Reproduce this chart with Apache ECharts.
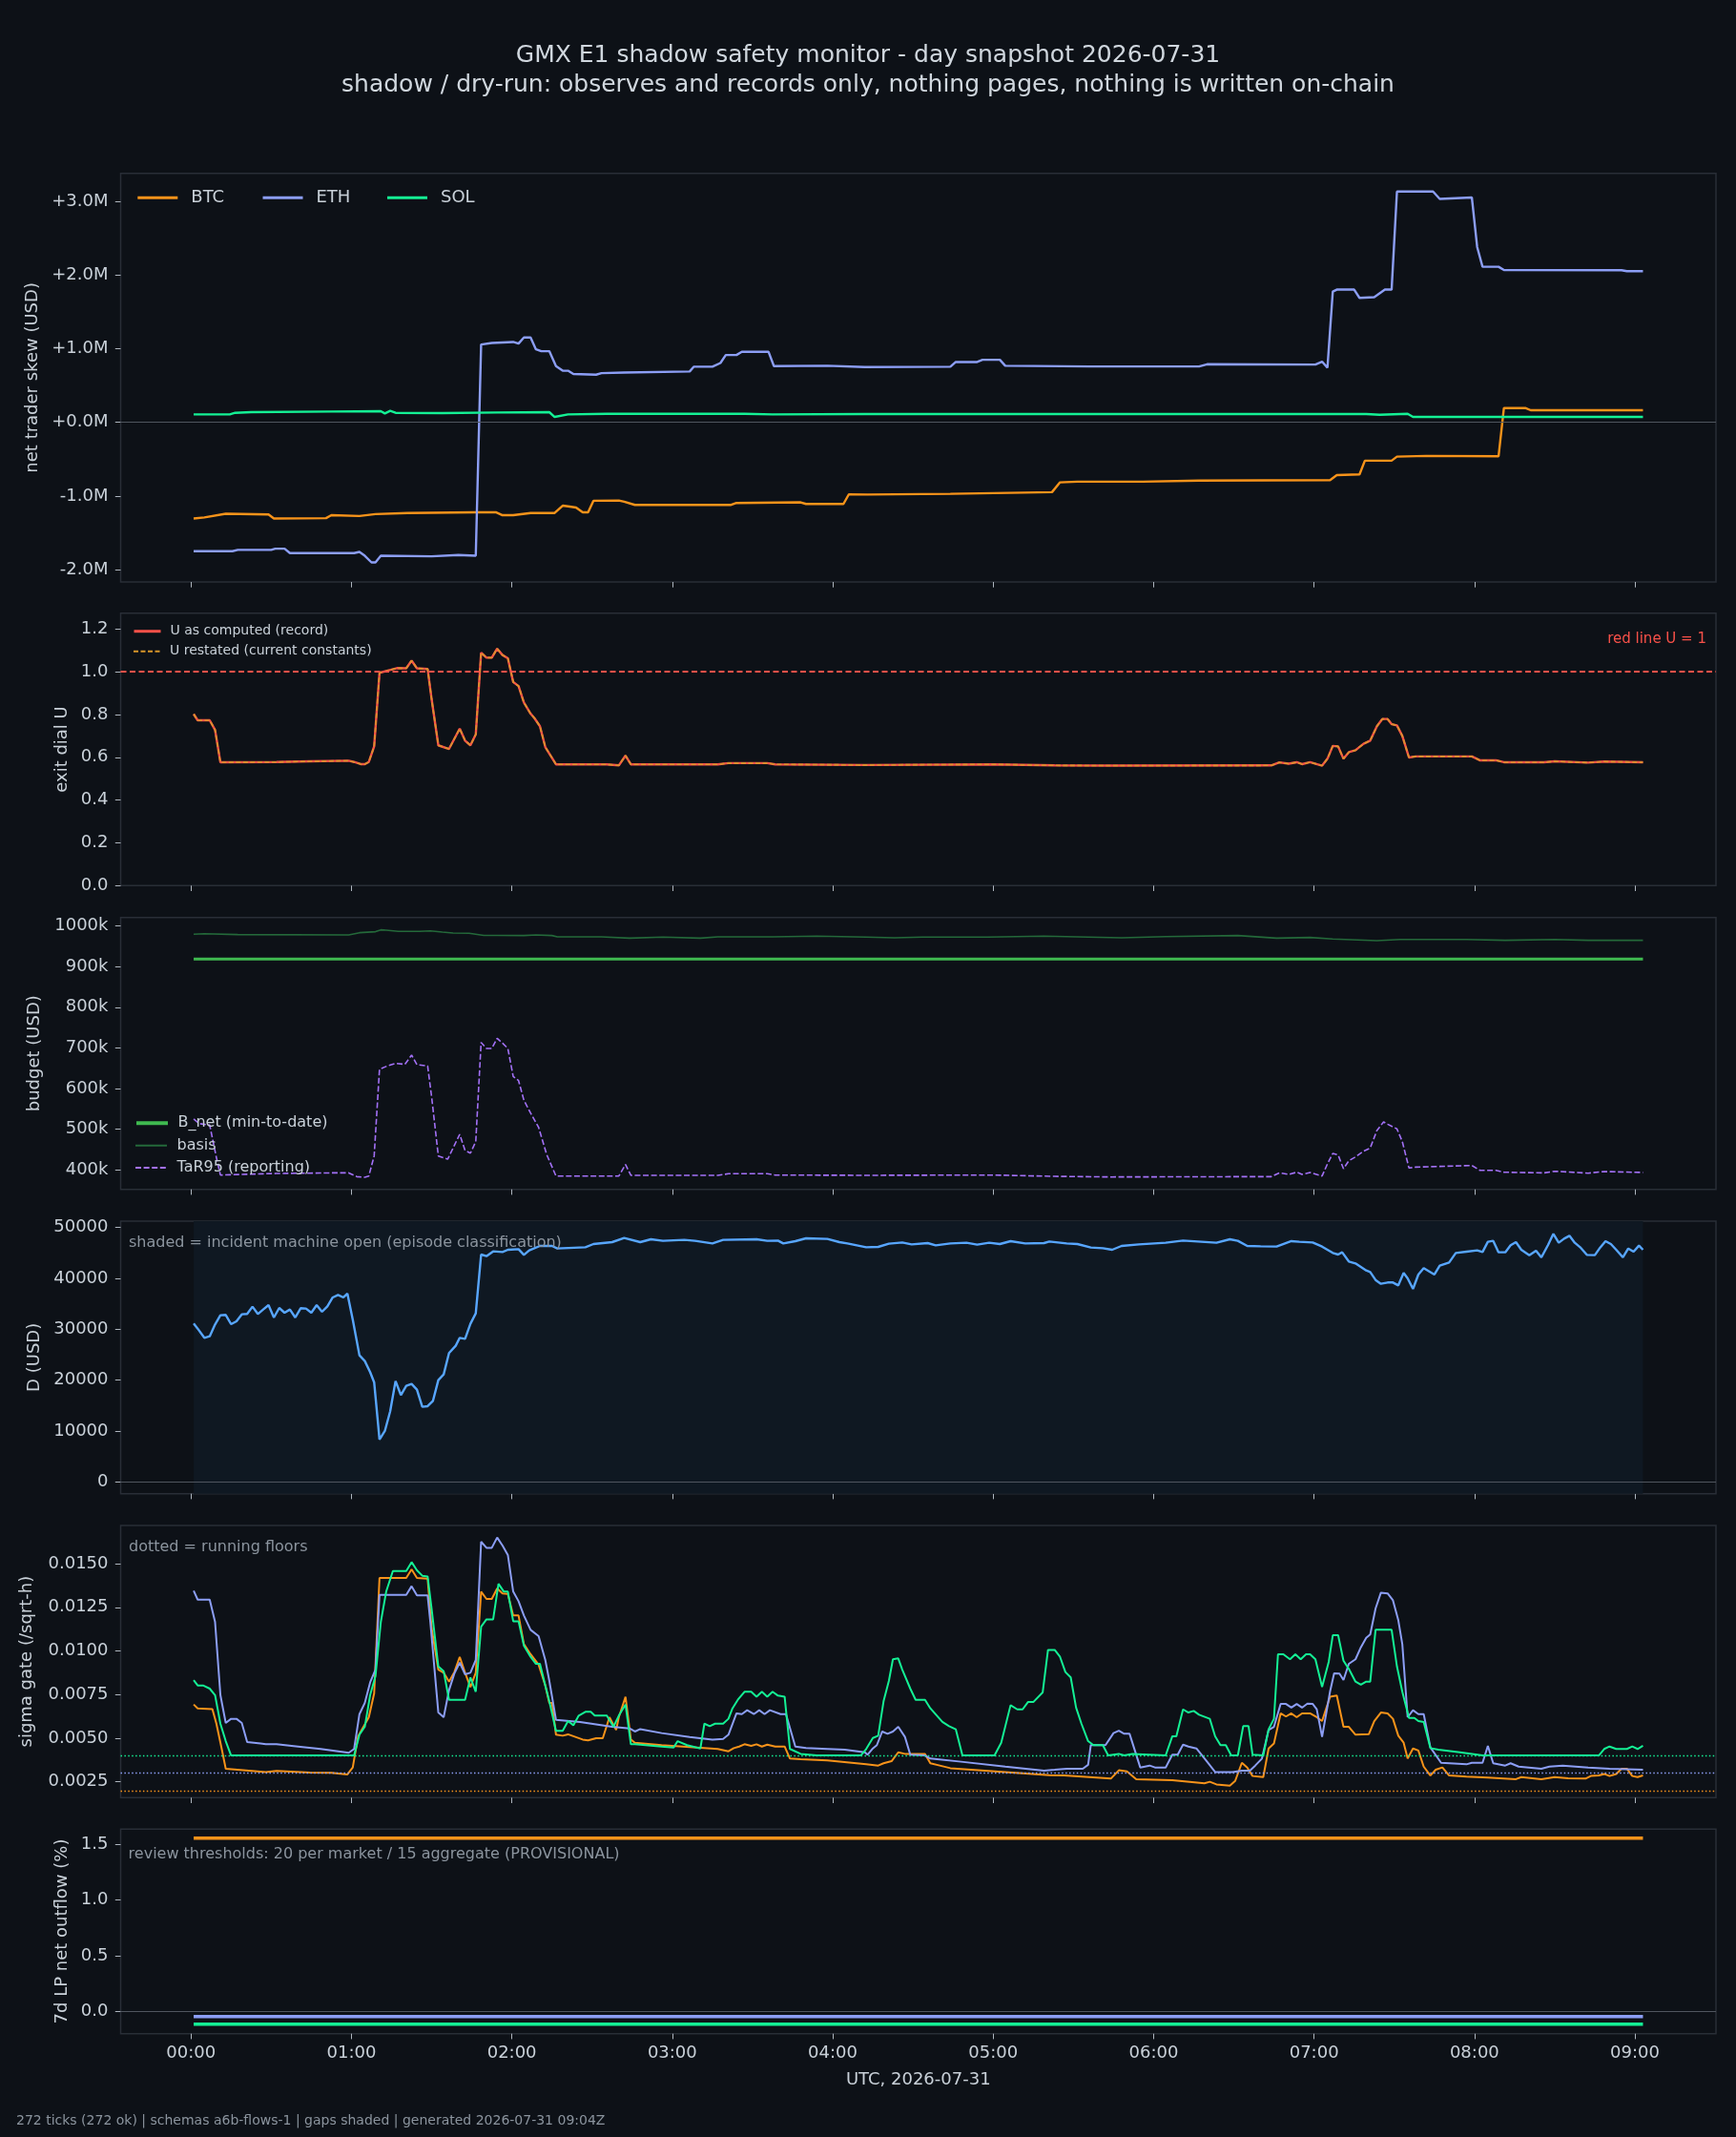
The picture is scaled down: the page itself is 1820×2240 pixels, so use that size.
<!DOCTYPE html>
<html>
<head>
<meta charset="utf-8">
<title>GMX E1 shadow safety monitor - day snapshot 2026-07-31</title>
<script src="https://cdn.jsdelivr.net/npm/echarts@6.0.0/dist/echarts.min.js"></script>
<style>
  html, body { margin: 0; padding: 0; background: #0d1117; }
  #main { width: 1820px; height: 2240px; }
</style>
</head>
<body>
<div id="main"></div>
<script>
// time axis is minutes after 00:00 UTC
var hourTicks = [0, 60, 120, 180, 240, 300, 360, 420, 480, 540];

// panel 1: net trader skew, millions USD
var btcSkew = [[1,-1.305],[5,-1.29],[13,-1.24],[29,-1.25],[31,-1.305],[50.5,-1.30],[52.5,-1.26],[63,-1.27],[69,-1.245],[81,-1.23],[106,-1.22],[114,-1.22],[116.5,-1.26],[120.5,-1.26],[127,-1.23],[136,-1.23],[139,-1.13],[141,-1.14],[144,-1.155],[146.5,-1.22],[148.5,-1.22],[150.5,-1.064],[160,-1.06],[162,-1.077],[166,-1.12],[202,-1.12],[204,-1.094],[228,-1.085],[230,-1.107],[244,-1.107],[246,-0.978],[253,-0.98],[284,-0.97],[322,-0.947],[325,-0.814],[331.5,-0.805],[356,-0.805],[377,-0.79],[426,-0.784],[428.5,-0.715],[437,-0.706],[439,-0.52],[449,-0.52],[451,-0.465],[462,-0.456],[489,-0.46],[491,0.194],[499,0.194],[501,0.164],[543,0.164]];
var ethSkew = [[1,-1.748],[15.5,-1.748],[17.5,-1.73],[30,-1.73],[31.5,-1.714],[35,-1.714],[37,-1.774],[61,-1.774],[63,-1.757],[65,-1.81],[67.5,-1.90],[69,-1.90],[71,-1.81],[90,-1.817],[100,-1.80],[106.5,-1.81],[108.5,1.055],[112.5,1.077],[120.5,1.09],[122.5,1.068],[124.5,1.15],[127,1.15],[129,0.99],[131,0.965],[134,0.965],[136.5,0.762],[139,0.70],[141,0.70],[143,0.655],[151.5,0.646],[153.5,0.667],[162,0.676],[186.5,0.69],[188,0.754],[195,0.754],[198,0.805],[200,0.913],[204,0.913],[206,0.956],[216,0.956],[218,0.762],[238,0.767],[252,0.75],[284,0.754],[286,0.818],[294,0.818],[296,0.848],[302.5,0.848],[304.5,0.767],[336,0.758],[377,0.758],[380,0.788],[420.5,0.784],[423,0.823],[425,0.74],[427,1.774],[428.5,1.80],[435,1.80],[437,1.688],[442.5,1.697],[446.5,1.80],[449,1.80],[451,3.13],[464.5,3.13],[467,3.03],[479,3.05],[481,2.377],[483,2.11],[489,2.11],[491,2.067],[535,2.063],[537,2.05],[543,2.05]];
var solSkew = [[1,0.108],[14.5,0.108],[16.5,0.129],[22.5,0.138],[52.5,0.146],[71,0.151],[72.5,0.12],[74.5,0.155],[76.5,0.129],[94,0.125],[114.5,0.134],[134,0.138],[136,0.073],[141,0.108],[155.5,0.116],[207,0.116],[217.5,0.108],[252,0.112],[439.5,0.112],[444.5,0.103],[455,0.116],[457,0.073],[543,0.073]];
var skewTicks = [-2, -1, 0, 1, 2, 3];

// panel 2: exit dial U (record and restated coincide)
var uRecord = [[1,0.802],[2.5,0.773],[7,0.773],[9,0.728],[11,0.577],[32,0.578],[44.5,0.581],[59,0.584],[61,0.578],[63.5,0.568],[65,0.568],[66.5,0.578],[68.5,0.651],[70.5,0.995],[74,1.007],[77,1.017],[80.5,1.016],[82.5,1.052],[84.5,1.016],[88.5,1.013],[90,0.871],[92.5,0.656],[96.5,0.639],[100.5,0.734],[102.5,0.678],[104.5,0.656],[106.5,0.707],[108.5,1.089],[110.5,1.066],[112.5,1.066],[114.5,1.108],[116.5,1.078],[118.5,1.063],[120.5,0.952],[122.5,0.933],[124.5,0.856],[127,0.804],[128.5,0.782],[130.5,0.745],[132.5,0.648],[136.5,0.567],[155.5,0.567],[160,0.562],[162.5,0.608],[164.5,0.567],[197,0.567],[201,0.573],[215.5,0.573],[218.5,0.567],[252,0.564],[300,0.567],[323,0.562],[344,0.561],[404,0.562],[407,0.576],[410.5,0.57],[413.5,0.577],[415.5,0.568],[418.5,0.577],[423,0.561],[425,0.593],[427,0.653],[429,0.651],[431,0.593],[433,0.624],[435.5,0.633],[438.5,0.663],[441,0.678],[443.5,0.745],[445.5,0.779],[447.5,0.779],[449,0.755],[451,0.749],[453,0.70],[455.5,0.599],[458,0.604],[479,0.604],[482,0.586],[488,0.586],[491,0.577],[506,0.577],[510,0.581],[522.5,0.575],[528.5,0.58],[543,0.577]];
var uRestated = uRecord;
var redLineU = 1;
var uTicks = [0, 0.2, 0.4, 0.6, 0.8, 1.0, 1.2];

// panel 3: budget, thousands USD
var bNet = [[1,918.5],[543,918.5]];
var basis = [[1,979.6],[5,981],[17.5,979],[59,978],[63,983.5],[69,986],[71,990.6],[73,989.8],[77.5,986.7],[85.5,986.7],[89.5,988],[94,985],[98,982.7],[104,982],[109.5,977],[114.5,977],[124.5,976.5],[129,978],[135,976.5],[137,973.3],[153.5,973.3],[164,970],[176.5,972.6],[190.5,970],[197,973.3],[217.5,973.3],[234,975],[252.5,972.6],[263,971],[273.5,972.6],[298,972.6],[319,975],[348,971],[364.5,974],[391.5,976.5],[406,970],[418.5,971.8],[427,968],[443.5,964],[452,967],[477,967],[491.5,964.7],[510,967],[522.5,964.7],[543,964.7]];
var tar95 = [[1,525],[3,513.6],[7,509.7],[9.5,429.8],[11,386.7],[32,390.6],[52.5,392],[59,392],[62,382.8],[65,381.2],[66.5,384.3],[68.5,433.7],[70.5,647.5],[74,656.9],[76.5,661.6],[80,659.3],[82.5,682],[84.5,658.5],[88.5,655.3],[90,578.6],[92.5,433.7],[96,425.8],[100.5,487],[102.5,447],[104.5,440.7],[106.5,469],[108.5,713.3],[110.5,698.4],[112.5,698.4],[114.5,723.5],[116.5,711.7],[118.5,698.4],[120.5,629.5],[122.5,619.3],[124.5,570.8],[127,539.4],[130,504.2],[133,437.6],[136.5,384.3],[160,384.3],[162.5,412.5],[164.5,386],[197,386],[201,390],[215.5,390],[218.5,386.7],[252,386],[300,386.7],[323,383.5],[344,382],[404,382.8],[407,392],[410.5,388.3],[413.5,393.7],[415.5,388.3],[418.5,393],[423,384.3],[425,414],[427,440],[429,436],[431,402.3],[433,422],[435.5,431.3],[438.5,445.4],[441,453.3],[443.5,496.3],[446,517.5],[447.5,512],[451,500.3],[453,469],[455.5,404],[458,406.3],[479,410.2],[482,398.4],[488,398.4],[491,393.7],[506,392],[510,396],[522.5,391.4],[528.5,395.3],[543,393]];
var budgetTicks = [400, 500, 600, 700, 800, 900, 1000];

// panel 4: D, USD
var dUsd = [[1,31125],[2.5,30125],[5,28312],[7,28625],[9,30937],[11,32750],[13,32812],[15,31000],[17,31562],[19,32937],[21,33000],[23,34437],[25,33000],[27,33875],[29,34750],[31,32312],[33,34187],[35,33250],[37,33875],[39,32312],[41,34125],[43,34062],[45,33250],[47,34750],[49,33437],[51,34500],[53,36250],[55,36750],[57,36250],[58.5,37000],[60.5,31875],[63,24875],[65,23750],[67,21562],[68.5,19562],[70.5,8312],[72.5,10000],[74.5,13875],[76.5,19812],[78.5,17062],[80.5,18875],[82.5,19250],[84.5,18125],[86.5,14750],[88.5,14875],[90.5,15937],[92.5,20000],[94.5,21125],[96.5,25312],[99,26750],[100.5,28312],[102.5,28125],[104.5,31062],[106.5,33125],[108.5,44687],[110.5,44375],[113,45312],[116.5,45187],[118.5,45625],[122.5,45750],[124.5,44625],[126.5,45500],[130.5,46375],[135,46375],[137,45875],[147.5,46125],[150.5,46750],[157.5,47125],[162,47937],[168,47125],[172,47687],[176.5,47375],[184.5,47562],[188.5,47375],[195,46875],[199,47562],[211.5,47687],[215.5,47375],[219.5,47437],[221.5,46875],[226,47312],[230,47875],[238,47750],[242.5,47125],[245.5,46875],[252.5,46125],[257,46187],[261,46812],[266,47062],[269.5,46687],[275.5,46937],[278.5,46500],[284,46875],[290,47000],[294,46625],[298.5,47000],[302.5,46750],[306.5,47312],[312,46875],[319,46937],[321,47250],[327.5,46875],[331.5,46750],[336.5,46062],[341,45937],[344.5,45625],[348,46375],[354.5,46687],[364.5,47000],[371,47437],[383.5,47000],[388.5,47687],[391.5,47375],[395,46375],[400,46312],[406,46250],[411.5,47312],[414.5,47187],[419.5,47062],[423,46250],[427,45000],[429,44687],[430.5,45125],[433,43312],[435.5,42937],[439.5,41562],[441,41250],[443,39687],[445,38937],[447.5,39187],[449.5,39187],[451.5,38625],[453.5,41062],[455,40000],[457,37937],[459,40750],[461,42000],[465,40750],[467,42500],[470.5,43125],[473,45000],[477,45250],[481,45500],[483,45187],[485,47187],[487,47375],[489,45125],[491.5,45125],[493.5,46500],[495.5,47125],[497.5,45625],[500.5,44562],[503,45437],[505,44125],[507.5,46562],[509.5,48750],[511.5,47000],[513.5,47812],[515.5,48375],[517.5,47000],[519.5,46125],[522,44625],[525,44562],[527,46062],[529,47312],[531,46750],[533,45625],[535.5,44125],[537.5,45875],[539.5,45250],[541.5,46437],[543,45625]];
var incidentOpen = [1, 543];
var dTicks = [0, 10000, 20000, 30000, 40000, 50000];

// panel 5: sigma gate (/sqrt-h) and running floors
var btcSigma = [[1,.00693],[2.5,.00671],[8,.00667],[9.5,.00583],[11.5,.00438],[13,.00325],[19.5,.00317],[28,.00306],[32,.00312],[44.5,.00303],[52.5,.00301],[58.5,.00292],[60.5,.00332],[62.5,.00511],[66.5,.0062],[68.5,.00757],[70.5,.01418],[80.5,.01418],[82.5,.01467],[84.5,.01418],[88.5,.01414],[90,.0113],[92.5,.00893],[94.5,.00875],[96.5,.00824],[98.5,.00879],[100.5,.00966],[102.5,.00875],[104.5,.00793],[106.5,.00875],[108.5,.0134],[110.5,.01298],[112.5,.01298],[114.5,.01358],[116.5,.0133],[118.5,.01327],[120.5,.01203],[122.5,.01203],[124.5,.01039],[127,.00981],[130,.00921],[132.5,.00802],[134,.00702],[135,.00702],[136.5,.0052],[139,.00514],[141,.00522],[146.5,.00492],[148.5,.00487],[151.5,.005],[154,.005],[156.5,.0062],[159,.00547],[160,.0062],[162.5,.00737],[164.5,.00492],[166,.00474],[176,.0046],[197,.00438],[201,.00425],[203,.00443],[205,.00452],[207,.00465],[209.5,.00456],[211.5,.00465],[213.5,.00452],[215.5,.00463],[218.5,.00452],[222,.00452],[224,.00383],[228,.00379],[238,.00372],[252.5,.0035],[257,.00343],[259,.00356],[262,.00368],[264.5,.00419],[267,.0041],[274.5,.00409],[276.5,.00356],[280,.00343],[284,.00328],[304.5,.00306],[321,.00288],[326.5,.00286],[344,.00268],[347,.00316],[350,.0031],[353.5,.00265],[367,.00259],[379,.00241],[381,.0025],[383.5,.00235],[388.5,.00228],[390.5,.00255],[393,.00359],[395,.00332],[397,.00283],[401,.00277],[403,.00441],[405,.0047],[407.5,.00642],[409.5,.00624],[411.5,.00642],[413.5,.0062],[415.5,.00642],[418.5,.00642],[421,.0062],[423,.00598],[426,.00738],[428.5,.00744],[431,.00565],[433,.00565],[435.5,.0052],[440.5,.00523],[442.5,.00598],[445,.00647],[447.5,.00642],[449.5,.00611],[451.5,.00514],[453.5,.00474],[455,.00383],[457,.00441],[459,.00429],[461,.00337],[463.5,.00286],[465.5,.00319],[468,.00332],[470.5,.00286],[477,.00279],[485,.00274],[495.5,.00265],[497.5,.00277],[505,.00265],[510,.00277],[515,.0027],[521.5,.00268],[523.5,.00283],[526.5,.00286],[528.5,.00295],[530.5,.00283],[533,.00295],[535,.00325],[537,.00325],[539,.00283],[541,.00277],[543,.00286]];
var ethSigma = [[1,.01345],[2.5,.01294],[7,.01294],[9,.01167],[11,.00747],[13,.00587],[15,.00611],[17,.00611],[19,.00587],[21,.00478],[26,.0047],[28,.00465],[32,.00465],[40,.00452],[48.5,.00438],[59,.00416],[61,.00438],[63,.00638],[65,.00702],[67,.0082],[69,.00893],[70.5,.01321],[80.5,.01321],[82.5,.01371],[84.5,.01318],[88.5,.01318],[89.5,.01167],[92.5,.00647],[94.5,.0062],[96.5,.00775],[98.5,.00871],[100.5,.00933],[102.5,.00866],[104.5,.00875],[106.5,.00948],[108.5,.01626],[110.5,.01591],[112.5,.01591],[114.5,.0165],[116.5,.01604],[118.5,.0155],[120.5,.0134],[122.5,.01285],[124.5,.01203],[127,.01121],[130,.01085],[132.5,.00948],[134,.00829],[136.5,.00605],[145.5,.00593],[157.5,.00565],[164,.00556],[166,.00538],[168,.00552],[176,.00529],[186.5,.00507],[195,.00492],[199,.00496],[201,.0052],[204,.00642],[206,.00638],[208,.0066],[210.5,.00638],[212.5,.0066],[214.5,.00638],[216.5,.0066],[220.5,.00638],[222.5,.00638],[226,.00452],[230,.00443],[238,.00438],[244.5,.00434],[252,.00419],[253,.00405],[255,.00441],[256.5,.0046],[258.5,.00538],[260.5,.00525],[262.5,.00538],[264.5,.00565],[267,.00507],[269,.00405],[274.5,.00401],[276.5,.00383],[288,.00365],[304.5,.00337],[319,.00314],[323,.00319],[327.5,.00325],[333.5,.00325],[335.5,.00347],[336.5,.0046],[342,.0046],[345,.00529],[347,.00543],[349,.00525],[351,.00525],[355,.00332],[358.5,.00343],[360.5,.00332],[364.5,.00332],[367,.00405],[369,.00405],[371,.00463],[373,.00452],[376,.00441],[379.5,.00374],[383,.00306],[389.5,.00305],[393,.00314],[396,.00314],[398,.00343],[400.5,.00383],[403,.00547],[405,.00565],[407.5,.00696],[409.5,.00696],[411.5,.00675],[413.5,.00696],[415.5,.00675],[417.5,.00698],[419.5,.00696],[421,.00666],[423,.00507],[426,.00769],[427.5,.00871],[429.5,.0087],[431,.00833],[433,.00926],[435.5,.00952],[437.5,.01021],[439.5,.01075],[441,.01094],[443,.01243],[445,.01334],[447.5,.0133],[449.5,.0129],[451.5,.01176],[453,.01039],[455,.0062],[457,.0066],[459,.00638],[461,.00638],[463.5,.00447],[467.5,.00359],[477,.0035],[479,.00359],[483,.00359],[485,.00456],[487,.00356],[491.5,.00343],[493.5,.00356],[496.5,.00337],[505,.00325],[508,.00337],[513,.00343],[522.5,.00332],[530.5,.00325],[543,.00319]];
var solSigma = [[1,.00833],[2.5,.00802],[4.5,.00802],[7,.00784],[9,.00747],[11,.00583],[13,.00483],[15,.00401],[59,.00401],[61,.00401],[63,.0052],[65,.00565],[67,.00747],[69,.00857],[71,.01167],[73,.0134],[75.5,.01458],[80.5,.01458],[82.5,.01509],[84.5,.01462],[86.5,.01431],[88.5,.01427],[90,.0124],[92.5,.00911],[94.5,.00884],[96.5,.0072],[102.5,.0072],[104.5,.00848],[106.5,.00766],[108.5,.01139],[110.5,.01181],[113,.01181],[115,.01385],[117,.0134],[118.5,.0134],[120.5,.0117],[122.5,.0117],[124.5,.0103],[127,.00966],[129,.00926],[130.5,.00926],[132.5,.00802],[134,.00711],[136.5,.00542],[139,.00542],[141,.00598],[143,.00574],[145,.00629],[147.5,.00651],[149.5,.00651],[151,.00629],[155.5,.00629],[158,.00565],[160,.00629],[162.5,.00693],[164.5,.00465],[166,.00465],[176,.00452],[180.5,.00447],[182,.00483],[185.5,.0046],[190.5,.00441],[192,.00583],[194,.00569],[196,.00583],[199,.00583],[201,.00611],[202.5,.00671],[204.5,.0072],[207,.00766],[209.5,.00766],[211.5,.00738],[213.5,.00766],[215.5,.00738],[217.5,.00766],[219.5,.00744],[222,.00738],[224,.00438],[228,.0041],[234,.00401],[250.5,.00401],[252.5,.00438],[255,.00501],[257,.00514],[259,.00711],[261,.00829],[262.5,.00952],[264.5,.00957],[266,.00893],[269,.00784],[271,.0072],[274.5,.0072],[276.5,.00671],[281,.00593],[283.5,.00569],[286,.00551],[288.5,.00401],[300.5,.00401],[303,.00474],[306.5,.00689],[309,.00665],[311,.00665],[313,.00707],[315,.00707],[318.5,.00762],[320.5,.01006],[323,.01006],[325,.00966],[327,.00879],[329,.00848],[331,.00675],[333,.00583],[335.5,.00483],[337.5,.0046],[341,.0046],[343,.00401],[347,.0041],[349,.00401],[352,.00409],[364.5,.00401],[367,.00511],[368.5,.00511],[371,.00665],[373,.00647],[375,.00656],[377,.00634],[381,.00611],[383,.00511],[385,.0046],[387,.0046],[389,.00401],[391.5,.00401],[393.5,.00569],[395.5,.00569],[397,.00405],[401,.00401],[403,.00551],[405,.00611],[406.5,.00981],[408.5,.00981],[411,.00952],[413,.00981],[415,.00952],[417,.00981],[418.5,.00981],[420.5,.00952],[423,.00793],[425.5,.00939],[427,.0109],[429,.0109],[431,.00944],[433,.00897],[435.5,.00824],[437.5,.00806],[439.5,.00824],[441,.00824],[443,.01121],[449,.01121],[451,.00911],[453,.00766],[455.5,.00616],[457.5,.00616],[459,.00598],[461,.00593],[463.5,.00443],[466.5,.00434],[474.5,.00419],[483,.00401],[526.5,.00401],[528.5,.00438],[530.5,.00452],[533,.00438],[537,.00438],[539,.00452],[541,.00438],[543,.00456]];
var btcFloor = 0.0020, ethFloor = 0.0030, solFloor = 0.0040;
var sigmaTicks = [0.0025, 0.005, 0.0075, 0.01, 0.0125, 0.015];

// panel 6: 7d LP net outflow (%)
var btcOutflow = [[1,1.557],[543,1.557]];
var ethOutflow = [[1,-0.046],[543,-0.046]];
var solOutflow = [[1,-0.115],[543,-0.115]];
var outflowTicks = [0, 0.5, 1.0, 1.5];

var FONT = 'DejaVu Sans';
var TXT = '#c9d1d9', MUTED = '#8b949e', SPINE = '#292e37', ZERO = '#4f555e', TICK = '#aeb6bf';
var C_BTC = '#f7931a', C_ETH = '#8c9ef5', C_SOL = '#14f195';
var X_MIN = -26.3, X_MAX = 570.3;
var LEFT = 126.5, WIDTH = 1672.5;

var panels = [
    {top: 181.7, height: 428.3, min: -2.165, max: 3.377, ticks: skewTicks, name: 'net trader skew (USD)', gap: 83,
     fmt: function (v) { return (v < 0 ? '-' : '+') + Math.abs(v).toFixed(1) + 'M'; }},
    {top: 642.7, height: 285.6, min: 0, max: 1.274, ticks: uTicks, name: 'exit dial U', gap: 52,
     fmt: function (v) { return v.toFixed(1); }},
    {top: 961.7, height: 285, min: 351.4, max: 1021, ticks: budgetTicks, name: 'budget (USD)', gap: 81,
     fmt: function (v) { return v + 'k'; }},
    {top: 1280, height: 285.7, min: -2330, max: 51250, ticks: dTicks, name: 'D (USD)', gap: 81,
     fmt: function (v) { return String(v); }},
    {top: 1599, height: 285.3, min: 0.00159, max: 0.01719, ticks: sigmaTicks, name: 'sigma gate (/sqrt-h)', gap: 89,
     fmt: function (v) { return v.toFixed(4); }},
    {top: 1917.3, height: 214.4, min: -0.2006, max: 1.637, ticks: outflowTicks, name: '7d LP net outflow (%)', gap: 52,
     fmt: function (v) { return v.toFixed(1); }}
];

function hhmm(m) {
    var h = Math.round(m / 60);
    return (h < 10 ? '0' : '') + h + ':00';
}

var grids = [], xAxes = [], yAxes = [];
panels.forEach(function (p, i) {
    grids.push({left: LEFT, top: p.top, width: WIDTH, height: p.height, show: true,
        backgroundColor: '#0d1117', borderColor: SPINE, borderWidth: 1.5, containLabel: false, outerBoundsMode: 'none'});
    var last = i === panels.length - 1;
    xAxes.push({
        type: 'value', gridIndex: i, min: X_MIN, max: X_MAX,
        axisLine: {show: false, onZero: false},
        splitLine: {show: false},
        axisTick: {show: true, customValues: hourTicks, length: 5.7, lineStyle: {color: TICK, width: 1}},
        axisLabel: {show: last, customValues: hourTicks, formatter: hhmm, margin: 12,
            color: TXT, fontSize: 18, fontFamily: FONT},
        name: last ? 'UTC, 2026-07-31' : '', nameLocation: 'middle', nameGap: 40,
        nameTextStyle: {color: TXT, fontSize: 18, fontFamily: FONT}
    });
    yAxes.push({
        type: 'value', gridIndex: i, min: p.min, max: p.max,
        axisLine: {show: false, onZero: false},
        splitLine: {show: false},
        axisTick: {show: true, customValues: p.ticks, length: 5.7, lineStyle: {color: TICK, width: 1}},
        axisLabel: {customValues: p.ticks, formatter: p.fmt, margin: 13, color: TXT, fontSize: 18, fontFamily: FONT},
        name: p.name, nameLocation: 'middle', nameGap: p.gap,
        nameTextStyle: {color: TXT, fontSize: 18, fontFamily: FONT}
    });
});

function line(name, idx, data, color, width, dash) {
    return {type: 'line', name: name, xAxisIndex: idx, yAxisIndex: idx, data: data,
        symbol: 'none', showSymbol: false, silent: true, animation: false,
        lineStyle: {color: color, width: width, type: dash || 'solid'},
        itemStyle: {color: color}};
}
// precision matters: markLine rounds the value to 2 decimals by default
function hline(y, color, width, dash) {
    return {silent: true, symbol: 'none', animation: false, precision: 6, label: {show: false},
        lineStyle: {color: color, width: width, type: dash || 'solid', opacity: 1},
        emphasis: {disabled: true},
        data: [{yAxis: y}]};
}

var series = [];
var s;
s = line('BTC', 0, btcSkew, C_BTC, 2.4); s.markLine = hline(0, ZERO, 1.2); series.push(s);
series.push(line('ETH', 0, ethSkew, C_ETH, 2.4));
series.push(line('SOL', 0, solSkew, C_SOL, 2.4));

s = line('U as computed (record)', 1, uRecord, '#f85149', 2.4); s.markLine = hline(redLineU, '#f85149', 1.8, [6, 3.5]); series.push(s);
series.push(line('U restated (current constants)', 1, uRestated, '#d8962a', 1.6, [5, 2.5]));

series.push(line('basis', 2, basis, '#24693a', 1.6));
series.push(line('B_net (min-to-date)', 2, bNet, '#3fb950', 3));
series.push(line('TaR95 (reporting)', 2, tar95, '#a371f7', 1.6, [6, 2.6]));

s = line('D', 3, dUsd, '#58a6ff', 2.4);
s.markLine = hline(0, ZERO, 1.2);
s.markArea = {silent: true, itemStyle: {color: '#0f1822'}, data: [[{xAxis: incidentOpen[0]}, {xAxis: incidentOpen[1]}]]};
series.push(s);

// running floors: dotted lines across the whole panel
s = line('BTC', 4, btcSigma, C_BTC, 2); s.markLine = hline(btcFloor, C_BTC, 1.3, [1.5, 2.4]); series.push(s);
s = line('ETH', 4, ethSigma, C_ETH, 2); s.markLine = hline(ethFloor, C_ETH, 1.3, [1.5, 2.4]); series.push(s);
s = line('SOL', 4, solSigma, C_SOL, 2); s.markLine = hline(solFloor, C_SOL, 1.3, [1.5, 2.4]); series.push(s);

s = line('BTC', 5, btcOutflow, C_BTC, 3.5); s.markLine = hline(0, ZERO, 1.2); series.push(s);
series.push(line('ETH', 5, ethOutflow, C_ETH, 3.5));
series.push(line('SOL', 5, solOutflow, C_SOL, 3.5));

function legendItem(name, x, cy, h, fs, iw, pad, lw) {
    return {show: true, data: [name], left: x, top: cy - h / 2, padding: 0, itemGap: 0,
        itemWidth: iw, itemHeight: h, selectedMode: false,
        itemStyle: {opacity: 0},
        lineStyle: {width: lw},
        textStyle: {color: TXT, fontSize: fs, fontFamily: FONT, lineHeight: h, padding: [0, 0, 0, pad]}};
}
var legends = [
    legendItem('BTC', 142.8, 207.3, 18, 18, 42, 9, 3),
    legendItem('ETH', 274, 207.3, 18, 18, 42, 9, 3),
    legendItem('SOL', 404.5, 207.3, 18, 18, 42, 9, 3),
    legendItem('U as computed (record)', 139, 661.7, 14, 14, 28, 5, 3),
    legendItem('U restated (current constants)', 139, 682.7, 14, 14, 28, 5, 2),
    legendItem('B_net (min-to-date)', 141, 1177.3, 16, 16, 33, 5.5, 4),
    legendItem('basis', 141, 1200.7, 16, 16, 33, 5.5, 2),
    legendItem('TaR95 (reporting)', 141, 1224, 16, 16, 33, 5.5, 2)
];

function txt(text, x, y, size, color, align) {
    return {type: 'text', x: x, y: y, silent: true, z: 100,
        style: {text: text, fill: color, font: size + 'px "DejaVu Sans"',
            textAlign: align || 'left', align: align || 'left',
            textVerticalAlign: 'middle', verticalAlign: 'middle'}};
}
var graphics = [
    txt('GMX E1 shadow safety monitor - day snapshot 2026-07-31', 910, 58, 25, '#d0d7de', 'center'),
    txt('shadow / dry-run: observes and records only, nothing pages, nothing is written on-chain', 910, 89, 25, '#d0d7de', 'center'),
    txt('red line U = 1', 1789, 670, 15, '#f85149', 'right'),
    txt('shaded = incident machine open (episode classification)', 135, 1303.3, 16, MUTED),
    txt('dotted = running floors', 135, 1622.3, 16, MUTED),
    txt('review thresholds: 20 per market / 15 aggregate (PROVISIONAL)', 134.6, 1944.3, 16, MUTED),
    txt('272 ticks (272 ok) | schemas a6b-flows-1 | gaps shaded | generated 2026-07-31 09:04Z', 17, 2223, 14, MUTED)
];

var myChart = echarts.init(document.getElementById('main'), null, {renderer: 'canvas'});
myChart.setOption({
    backgroundColor: '#0d1117',
    animation: false,
    textStyle: {fontFamily: FONT},
    grid: grids,
    xAxis: xAxes,
    yAxis: yAxes,
    legend: legends,
    series: series,
    graphic: graphics
});
</script>
</body>
</html>
